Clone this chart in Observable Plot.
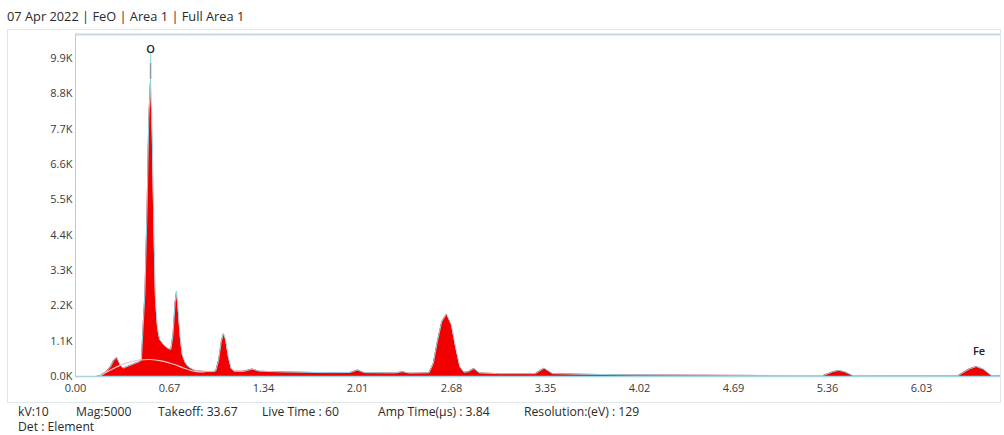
<!DOCTYPE html>
<html>
<head>
<meta charset="utf-8">
<script src="https://cdn.jsdelivr.net/npm/d3@7"></script>
<script src="https://cdn.jsdelivr.net/npm/@observablehq/plot@0.6"></script>
<style>
  html, body { margin: 0; padding: 0; background: #fff; }
  body { width: 1004px; height: 435px; position: relative; overflow: hidden; font-family: "Open Sans", "Noto Sans", sans-serif; color: #2a2a2a; }
  #title { position: absolute; left: 7px; top: 7px; font-size: 12.8px; white-space: nowrap; }
  #chart { position: absolute; left: 0; top: 28px; }
  #box { position: absolute; left: 7px; top: 29px; width: 992px; height: 372px; border: 1px solid #dfe6ec; pointer-events: none; }
  .foot { position: absolute; font-size: 12.2px; white-space: nowrap; color: #2a2a2a; }
</style>
</head>
<body>
<div id="title">07 Apr 2022 | FeO | Area 1 | Full Area 1</div>
<div id="chart"></div>
<div id="box"></div>
<div id="footer"></div>
<script>
// Energy (keV) and counts of the EDS spectrum
const energy = [0.00, 0.15, 0.18, 0.22, 0.25, 0.27, 0.295, 0.32, 0.34, 0.38, 0.42, 0.46, 0.47, 0.48, 0.495, 0.51, 0.522, 0.535, 0.547, 0.558, 0.57, 0.585, 0.60, 0.63, 0.66, 0.68, 0.695, 0.71, 0.72, 0.73, 0.745, 0.76, 0.78, 0.80, 0.83, 0.86, 0.90, 0.98, 1.00, 1.02, 1.04, 1.055, 1.07, 1.09, 1.11, 1.13, 1.20, 1.26, 1.31, 1.50, 1.80, 1.96, 2.01, 2.06, 2.28, 2.33, 2.38, 2.52, 2.55, 2.58, 2.61, 2.645, 2.68, 2.71, 2.74, 2.77, 2.80, 2.84, 2.88, 3.00, 3.28, 3.34, 3.40, 3.60, 4.00, 4.50, 5.00, 5.33, 5.40, 5.44, 5.48, 5.54, 6.00, 6.29, 6.37, 6.42, 6.47, 6.53, 6.593];
const counts = [0, 0, 40, 150, 300, 480, 590, 350, 260, 330, 400, 470, 520, 1400, 2600, 5200, 8000, 9250, 7600, 4800, 2400, 1500, 1150, 980, 870, 840, 1300, 2300, 2650, 2200, 1300, 700, 450, 320, 230, 180, 160, 150, 170, 500, 1100, 1340, 1150, 600, 250, 160, 160, 230, 165, 140, 120, 125, 200, 120, 110, 150, 105, 115, 400, 1100, 1700, 1950, 1600, 900, 300, 130, 150, 250, 110, 90, 90, 260, 90, 70, 50, 40, 32, 30, 150, 190, 150, 30, 25, 25, 230, 310, 230, 25, 20];

// Background (bremsstrahlung) fit curve
const bgEnergy = [0.17, 0.25, 0.35, 0.45, 0.53, 0.62, 0.70, 0.78, 0.85, 0.92];
const bgCounts = [0, 200, 400, 510, 530, 480, 380, 250, 160, 140];

// Outline tip over the O peak
const tipEnergy = [0.535];
const tipGray = [9750];
const tipCyan = [10080];

// Element labels
const elements = ["O", "Fe"];
const elementEnergy = [0.535, 6.44];
const elementCounts = [10170, 780];

// Axis ticks
const xTicks = [0, 0.67, 1.34, 2.01, 2.68, 3.35, 4.02, 4.69, 5.36, 6.03];
const yTicks = [0, 1100, 2200, 3300, 4400, 5500, 6600, 7700, 8800, 9900];

// Footer
const footerItems = ["kV:10", "Mag:5000", "Takeoff: 33.67", "Live Time : 60", "Amp Time(µs) : 3.84", "Resolution:(eV) : 129"];
const footerLine2 = "Det : Element";

const spectrum = energy.map((e, i) => ({e, c: counts[i]}));
const background = bgEnergy.map((e, i) => ({e, c: bgCounts[i]}));
const tip = tipEnergy.map((e, i) => ({e, g: tipGray[i], cy: tipCyan[i], r: 9250}));
const labels = elements.map((t, i) => ({t, e: elementEnergy[i], c: elementCounts[i]}));

const axisColor = "#a9d2e3";

const chart = Plot.plot({
  width: 1004,
  height: 374,
  marginLeft: 75,
  marginRight: 4,
  marginTop: 6,
  marginBottom: 26,
  style: {fontFamily: "Open Sans, Noto Sans, sans-serif", fontSize: "11px", color: "#3a3a3a", background: "transparent"},
  x: {domain: [0, 6.593], label: null},
  y: {domain: [0, 10650], label: null},
  marks: [
    Plot.areaY(spectrum, {x: "e", y: "c", fill: "#f20000"}),
    Plot.line(background, {x: "e", y: "c", stroke: "#e9c9c9", strokeWidth: 1.2, curve: "monotone-x"}),
    Plot.line(spectrum, {x: "e", y: "c", stroke: "#8ed6e6", strokeWidth: 1}),
    Plot.ruleX(tip, {x: "e", y1: "r", y2: "g", stroke: "#8a9aa0", strokeWidth: 1.5}),
    Plot.ruleX(tip, {x: "e", y1: "g", y2: "cy", stroke: "#9fe0ea", strokeWidth: 1.5}),
    Plot.ruleY([10650], {stroke: "#c4d8e5", strokeWidth: 2}),
    Plot.ruleX([0], {stroke: axisColor}),
    Plot.ruleY([0], {stroke: axisColor, strokeWidth: 1.5}),
    Plot.axisX({ticks: xTicks, tickFormat: d => d.toFixed(2), tickSize: 2, tickPadding: 6, stroke: "#c8dde8", label: null}),
    Plot.axisY({ticks: yTicks, tickFormat: d => (d / 1000).toFixed(1) + "K", tickSize: 0, tickPadding: 3, label: null}),
    Plot.text(labels, {x: "e", y: "c", text: "t", fontSize: 11, fill: "#222", fontWeight: 600})
  ]
});
document.getElementById("chart").appendChild(chart);

// Footer text positioned below the chart
const footerLefts = [18, 76, 158, 262, 378, 524];
const footer = document.getElementById("footer");
footerItems.forEach((t, i) => {
  const d = document.createElement("div");
  d.className = "foot";
  d.style.left = footerLefts[i] + "px";
  d.style.top = "403px";
  d.textContent = t;
  footer.appendChild(d);
});
const d2 = document.createElement("div");
d2.className = "foot";
d2.style.left = "18px";
d2.style.top = "418px";
d2.textContent = footerLine2;
footer.appendChild(d2);
</script>
</body>
</html>
